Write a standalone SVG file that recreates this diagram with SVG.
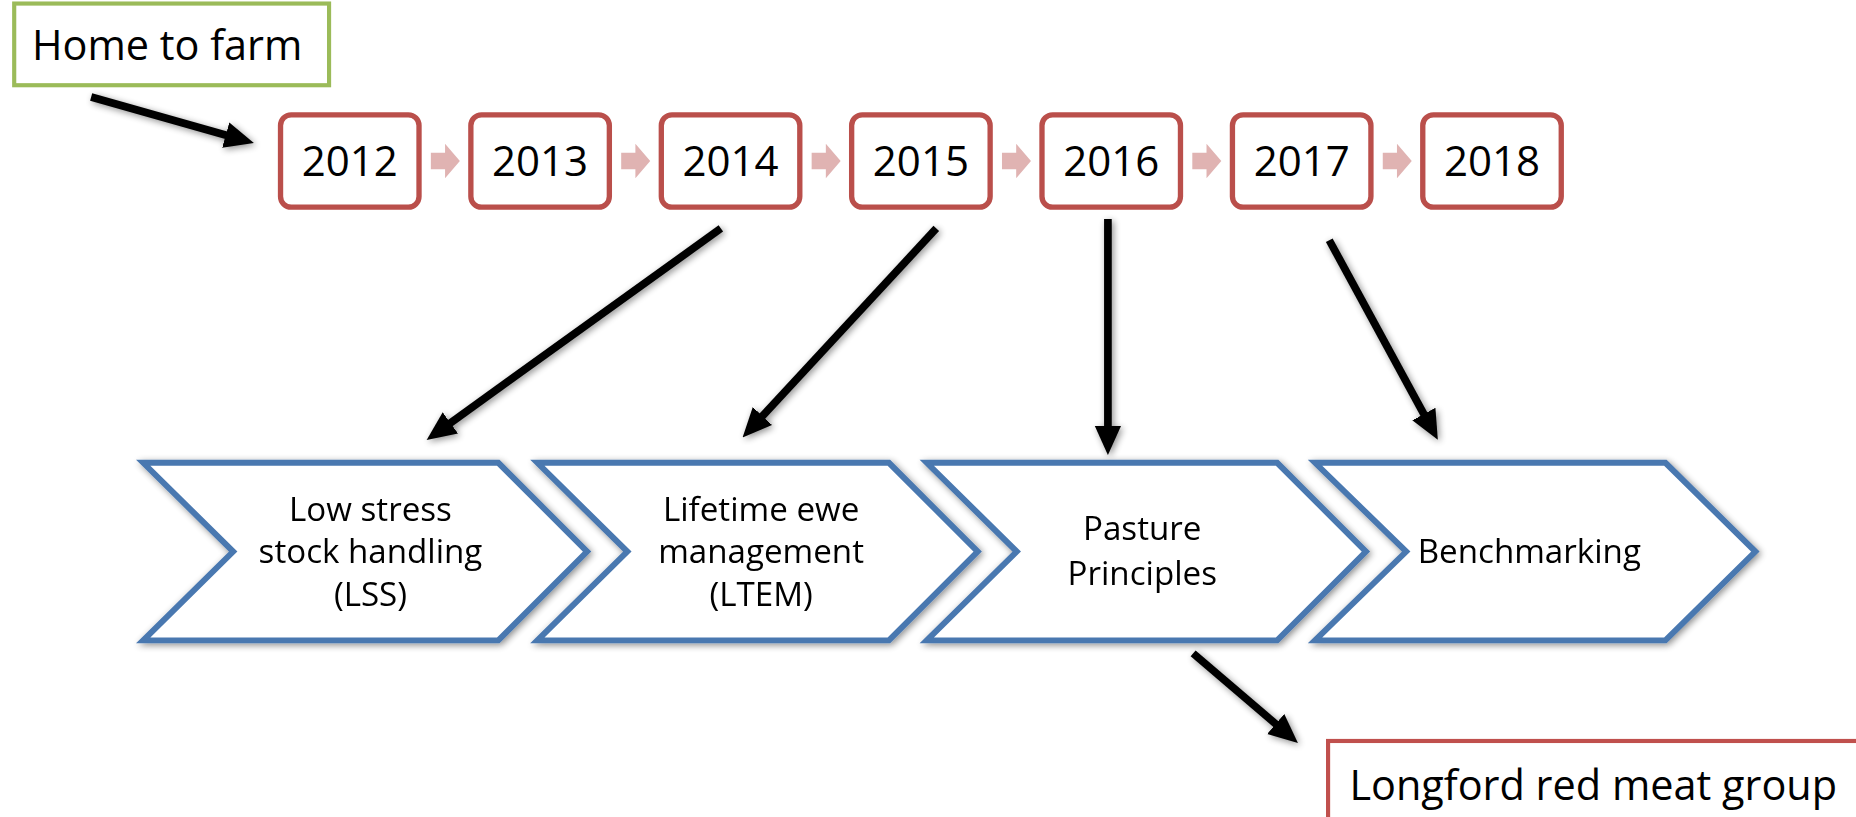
<svg xmlns="http://www.w3.org/2000/svg" width="1856" height="817" viewBox="0 0 1856 817">
  <defs>
    <style>
      text { font-family: "Open Sans", "Liberation Sans", sans-serif; fill: #000; }
      .year-box { fill: #fff; stroke: #BA4F4B; stroke-width: 4.5; }
      .year-text { font-size: 35.5px; text-anchor: middle; }
      .step { fill: #E0B3B2; }
      .chev { fill: #fff; stroke: #4A78B0; stroke-width: 5; stroke-linejoin: miter; }
      .chev-text { font-size: 28px; text-anchor: middle; }
      .conn { stroke: #000; stroke-width: 6.5; fill: none; marker-end: url(#ah); }
      .label { font-size: 35px; }
    </style>
    <marker id="ah" viewBox="0 0 10 9" refX="0.5" refY="4.5" markerWidth="3.8" markerHeight="3.5" orient="auto" markerUnits="strokeWidth">
      <path d="M0,0 L10,4.5 L0,9 z" fill="#000"/>
    </marker>
    <filter id="sh" x="-20%" y="-20%" width="140%" height="140%">
      <feGaussianBlur in="SourceAlpha" stdDeviation="3"/>
      <feOffset dx="1.5" dy="2" result="b"/>
      <feComponentTransfer><feFuncA type="linear" slope="0.45"/></feComponentTransfer>
      <feMerge><feMergeNode/><feMergeNode in="SourceGraphic"/></feMerge>
    </filter>
  </defs>
  <rect width="1856" height="817" fill="#fff"/>
  <g transform="scale(1.18367)">
    <g id="home-to-farm">
      <rect x="12" y="3" width="266" height="69" fill="#fff" stroke="#9BBB59" stroke-width="3.5"/>
      <text class="label" x="27" y="51">Home to farm</text>
    </g>

    <g id="years">
      <g id="y2012"><rect class="year-box" x="237" y="97" width="117" height="78" rx="9"/><text class="year-text" x="295.5" y="148.5">2012</text></g>
      <g id="y2013"><rect class="year-box" x="397.8" y="97" width="117" height="78" rx="9"/><text class="year-text" x="456.3" y="148.5">2013</text></g>
      <g id="y2014"><rect class="year-box" x="558.7" y="97" width="117" height="78" rx="9"/><text class="year-text" x="617.2" y="148.5">2014</text></g>
      <g id="y2015"><rect class="year-box" x="719.5" y="97" width="117" height="78" rx="9"/><text class="year-text" x="778" y="148.5">2015</text></g>
      <g id="y2016"><rect class="year-box" x="880.3" y="97" width="117" height="78" rx="9"/><text class="year-text" x="938.8" y="148.5">2016</text></g>
      <g id="y2017"><rect class="year-box" x="1041.2" y="97" width="117" height="78" rx="9"/><text class="year-text" x="1099.7" y="148.5">2017</text></g>
      <g id="y2018"><rect class="year-box" x="1202" y="97" width="117" height="78" rx="9"/><text class="year-text" x="1260.5" y="148.5">2018</text></g>
    </g>

    <g id="year-steps">
      <path class="step" d="M364,129 h12 v-7.5 l12.5,14.5 l-12.5,14.5 v-7.5 h-12 z"/>
      <path class="step" transform="translate(160.8,0)" d="M364,129 h12 v-7.5 l12.5,14.5 l-12.5,14.5 v-7.5 h-12 z"/>
      <path class="step" transform="translate(321.7,0)" d="M364,129 h12 v-7.5 l12.5,14.5 l-12.5,14.5 v-7.5 h-12 z"/>
      <path class="step" transform="translate(482.5,0)" d="M364,129 h12 v-7.5 l12.5,14.5 l-12.5,14.5 v-7.5 h-12 z"/>
      <path class="step" transform="translate(643.3,0)" d="M364,129 h12 v-7.5 l12.5,14.5 l-12.5,14.5 v-7.5 h-12 z"/>
      <path class="step" transform="translate(804.2,0)" d="M364,129 h12 v-7.5 l12.5,14.5 l-12.5,14.5 v-7.5 h-12 z"/>
    </g>

    <g id="lss" filter="url(#sh)">
      <polygon class="chev" points="121,391 421,391 496,466 421,541 121,541 197,466"/>
      <text class="chev-text" x="313" y="440">Low stress</text>
      <text class="chev-text" x="313" y="476">stock handling</text>
      <text class="chev-text" x="313" y="512">(LSS)</text>
    </g>
    <g id="ltem" filter="url(#sh)">
      <polygon class="chev" points="454,391 751,391 826,466 751,541 454,541 530,466"/>
      <text class="chev-text" x="643" y="440">Lifetime ewe</text>
      <text class="chev-text" x="643" y="476">management</text>
      <text class="chev-text" x="643" y="512">(LTEM)</text>
    </g>
    <g id="pasture" filter="url(#sh)">
      <polygon class="chev" points="783,391 1079,391 1154,466 1079,541 783,541 859,466"/>
      <text class="chev-text" x="965" y="456">Pasture</text>
      <text class="chev-text" x="965" y="494">Principles</text>
    </g>
    <g id="benchmarking" filter="url(#sh)">
      <polygon class="chev" points="1111,391 1407,391 1483,466 1407,541 1111,541 1188,466"/>
      <text class="chev-text" x="1292" y="476">Benchmarking</text>
    </g>

    <g id="longford">
      <rect x="1122" y="626" width="500" height="100" fill="#fff" stroke="#C0504D" stroke-width="3.5"/>
      <text class="label" x="1140" y="676">Longford red meat group</text>
    </g>

    <g id="connectors" filter="url(#sh)">
      <line class="conn" x1="77" y1="82" x2="191.9" y2="114.5"/>
      <line class="conn" x1="609" y1="193" x2="379.5" y2="358"/>
      <line class="conn" x1="791" y1="193" x2="643.3" y2="352.4"/>
      <line class="conn" x1="936" y1="185" x2="936" y2="361"/>
      <line class="conn" x1="1123" y1="203" x2="1203.5" y2="350.9"/>
      <line class="conn" x1="1008" y1="552" x2="1078.7" y2="612.4"/>
    </g>
  </g>
</svg>
